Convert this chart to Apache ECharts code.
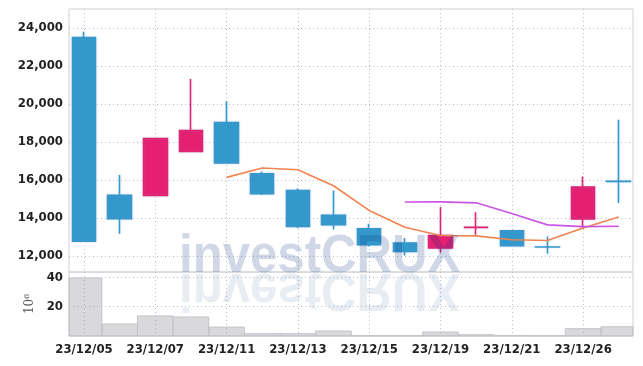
<!DOCTYPE html>
<html>
<head>
<meta charset="utf-8">
<script src="https://cdn.jsdelivr.net/npm/echarts@6/dist/echarts.min.js"></script>
<style>
  html, body { margin: 0; padding: 0; background: #fff; }
  #chart { width: 643px; height: 366px; }
</style>
</head>
<body>
<div id="chart"></div>
<script>
// 交易日
const dates = ['23/12/05', '23/12/06', '23/12/07', '23/12/08', '23/12/11', '23/12/12', '23/12/13', '23/12/14',
  '23/12/15', '23/12/18', '23/12/19', '23/12/20', '23/12/21', '23/12/22', '23/12/26', '23/12/27']

// OHLC
const opens  = [23500, 15200, 15190, 17500, 19030, 16330, 15450, 14140, 13440, 12680, 12420, 13500, 13330, 12480, 13950, 15935]
const closes = [12780, 13960, 18190, 18600, 16900, 15280, 13560, 13650, 12600, 12240, 13080, 13510, 12540, 12470, 15630, 15925]
const lows   = [12780, 13170, 15150, 17500, 16900, 15210, 13470, 13390, 12500, 12030, 12190, 13120, 12540, 12120, 13420, 14790]
const highs  = [23800, 16260, 18200, 21320, 20140, 16450, 15560, 15450, 13700, 12950, 14580, 14300, 13330, 13030, 16190, 19170]

// 移动平均线
const ma5  = [null, null, null, null, 16140, 16630, 16540, 15700, 14400, 13510, 13080, 13060, 12860, 12820, 13470, 14050]
const ma10 = [null, null, null, null, null, null, null, null, null, 14840, 14850, 14800, 14240, 13640, 13550, 13570]

// 成交量 (10^6)
const volumes = [39.6, 8.2, 13.7, 13.0, 6.1, 1.6, 1.6, 3.4, 0.3, 0.3, 2.7, 0.9, 0.4, 0.2, 5.0, 6.3]

// 刻度
const priceTicks = [12000, 14000, 16000, 18000, 20000, 22000, 24000]
const volumeTicks = [20, 40]
const dateTicks = [0, 2, 4, 6, 8, 10, 12, 14]

const UP = '#e52071'
const DOWN = '#3399cc'
const GRID_LINE = { type: [1, 3], color: '#b9bdcc', width: 1 }
const LABEL_FONT = {
  fontFamily: '"DejaVu Sans Condensed", "Liberation Sans Narrow", Roboto, sans-serif',
  fontWeight: 'bold',
  fontSize: 13,
  color: '#222'
}

const chart = echarts.init(document.getElementById('chart'))

const candleData = dates.map((_, i) => [i, opens[i], closes[i], lows[i], highs[i]])
const toPoints = arr => arr.map((v, i) => [i, v]).filter(p => p[1] != null)

// 成交量柱：整格宽度，裁剪到网格内
function renderVolume(params, api) {
  const x = api.value(0)
  const base = api.coord([x, 0])
  const top = api.coord([x, api.value(1)])
  const w = api.size([1, 0])[0]
  const rect = echarts.graphic.clipRectByRect(
    { x: base[0] - w / 2, y: top[1], width: w, height: base[1] - top[1] },
    { x: params.coordSys.x, y: params.coordSys.y, width: params.coordSys.width, height: params.coordSys.height }
  )
  return rect && {
    type: 'rect',
    shape: rect,
    style: { fill: 'rgba(150,150,158,0.36)', stroke: '#c4c4ca', lineWidth: 1 }
  }
}

const option = {
  animation: false,
  grid: [
    { left: 69, right: 10, top: 9, height: 263, show: true, borderColor: '#cfd0d6', borderWidth: 1 },
    { left: 69, right: 10, top: 272, height: 64, show: true, borderColor: '#cfd0d6', borderWidth: 1 }
  ],
  xAxis: [
    {
      type: 'value', gridIndex: 0, min: -0.42, max: 15.4,
      axisLine: { show: false },
      axisTick: { show: false, customValues: dateTicks },
      axisLabel: { show: false },
      splitLine: { show: true, lineStyle: GRID_LINE }
    },
    {
      type: 'value', gridIndex: 1, min: -0.42, max: 15.4,
      axisLine: { show: false },
      axisTick: { show: false, customValues: dateTicks },
      axisLabel: {
        ...LABEL_FONT,
        margin: 7,
        customValues: dateTicks,
        formatter: v => dates[Math.round(v)] || ''
      },
      splitLine: { show: true, lineStyle: GRID_LINE }
    }
  ],
  yAxis: [
    {
      type: 'value', gridIndex: 0, min: 11160, max: 25000,
      axisLine: { show: false },
      axisTick: { show: false, customValues: priceTicks },
      axisLabel: { ...LABEL_FONT, margin: 6, customValues: priceTicks },
      splitLine: { show: true, lineStyle: GRID_LINE }
    },
    {
      type: 'value', gridIndex: 1, min: 0, max: 43.7,
      name: '10⁶',
      nameLocation: 'middle',
      nameRotate: 90,
      nameGap: 32,
      nameTextStyle: { fontFamily: 'DejaVu Serif', fontSize: 12, color: '#555' },
      axisLine: { show: false },
      axisTick: { show: false, customValues: volumeTicks },
      axisLabel: { ...LABEL_FONT, margin: 6, customValues: volumeTicks },
      splitLine: { show: true, lineStyle: GRID_LINE }
    }
  ],
  graphic: [
    {
      type: 'text', x: 179, y: 284, scaleX: 0.91, z: 100,
      style: {
        text: 'investCRUX',
        font: 'bold 54px "Liberation Sans"',
        fill: 'rgba(3,40,121,0.19)',
        align: 'left',
        verticalAlign: 'bottom'
      }
    },
    {
      type: 'text', x: 179, y: 262, scaleX: 0.91, scaleY: -1, z: 100,
      style: {
        text: 'investCRUX',
        font: 'bold 54px "Liberation Sans"',
        fill: 'rgba(3,40,121,0.09)',
        align: 'left',
        verticalAlign: 'bottom'
      }
    }
  ],
  series: [
    {
      name: 'price',
      type: 'candlestick',
      xAxisIndex: 0, yAxisIndex: 0,
      barWidth: 24,
      encode: { x: 0, y: [1, 2, 3, 4] },
      data: candleData,
      itemStyle: {
        color: UP, color0: DOWN,
        borderColor: UP, borderColor0: DOWN,
        borderWidth: 1.5,
        shadowBlur: 2,
        shadowColor: 'rgba(120,140,200,0.35)'
      }
    },
    {
      name: 'MA5',
      type: 'line',
      xAxisIndex: 0, yAxisIndex: 0,
      data: toPoints(ma5),
      symbol: 'none',
      lineStyle: { color: '#ef8450', width: 1.6 }
    },
    {
      name: 'MA10',
      type: 'line',
      xAxisIndex: 0, yAxisIndex: 0,
      data: toPoints(ma10),
      symbol: 'none',
      lineStyle: { color: '#cc55e8', width: 1.6 }
    },
    {
      name: 'volume',
      type: 'custom',
      xAxisIndex: 1, yAxisIndex: 1,
      renderItem: renderVolume,
      encode: { x: 0, y: 1 },
      data: volumes.map((v, i) => [i, v])
    }
  ]
}

chart.setOption(option)
window.addEventListener('resize', () => chart.resize())
</script>
</body>
</html>
